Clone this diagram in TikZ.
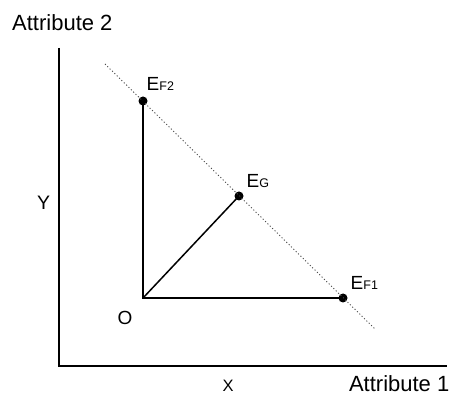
\documentclass[tikz,border=0pt]{standalone}
\usepackage{fontspec}
\setmainfont{Liberation Sans}
\begin{document}
\begin{tikzpicture}[x=1pt,y=1pt,
  axisline/.style={line width=1.4pt,black},
  vec/.style={line width=1.5pt,black},
  pt/.style={circle,fill=black,inner sep=0pt,minimum size=9pt},
  frontier/.style={line width=0.9pt,black!70,dash pattern=on 1.1pt off 2.2pt},
  lbl/.style={inner sep=0pt,font=\fontsize{19.5}{19.5}\selectfont},
  elbl/.style={inner sep=0pt,anchor=base west,font=\fontsize{19}{19}\selectfont}]
\useasboundingbox (0,0) rectangle (449,396);
% axes
\coordinate (corner) at (59,30);
\coordinate (ytop) at (59,348);
\coordinate (xend) at (447,30);
\draw[axisline] (ytop) -- (corner) -- (xend);
% points
\coordinate (O) at (143,98);
\node[pt] (EF2) at (143,295) {};
\node[pt] (EG) at (239,200) {};
\node[pt] (EF1) at (343,98) {};
\coordinate (fa) at (105,332);
\coordinate (fb) at (375,67);
\draw[frontier] (fa) -- (fb);
\draw[vec] (EF2.center) -- (O) -- (EF1.center);
\draw[vec] (O) -- (EG.center);
% labels
\node[lbl,anchor=base west,font=\fontsize{22}{22}\selectfont] (a2) at (12,365) {Attribute 2};
\node[lbl,anchor=base east,font=\fontsize{22}{22}\selectfont] (a1) at (449.5,4.3) {Attribute 1};
\node[lbl,anchor=base] (ylab) at (43.6,186) {Y};
\node[lbl,anchor=base,font=\fontsize{19}{19}\selectfont] (olab) at (125,72) {O};
\node[lbl,anchor=base,font=\fontsize{16.5}{16.5}\selectfont] (xlab) at (228,4.3) {X};
\node[elbl] (lf2) at (146.5,305) {E{\fontsize{12.5}{12.5}\selectfont F2}};
\node[elbl] (lg) at (246.5,208.7) {E{\fontsize{12.5}{12.5}\selectfont G}};
\node[elbl] (lf1) at (350.5,106.7) {E{\fontsize{12.5}{12.5}\selectfont F1}};
\end{tikzpicture}
\end{document}
